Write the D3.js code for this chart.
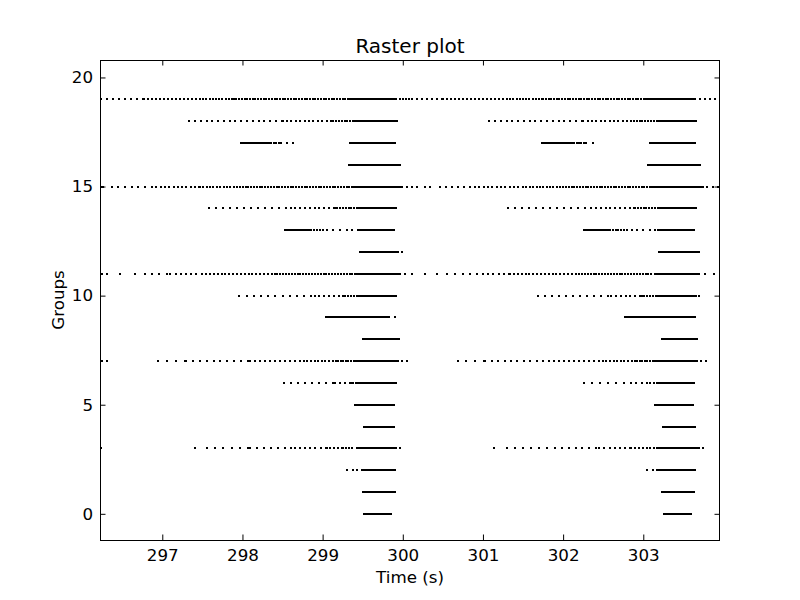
<!DOCTYPE html>
<html>
<head>
<meta charset="utf-8">
<script src="https://cdn.jsdelivr.net/npm/d3@7"></script>
<style>
  html, body { margin: 0; padding: 0; background: #fff; }
  svg { display: block; }
  text { font-family: "DejaVu Sans", sans-serif; fill: #000; }
</style>
</head>
<body>
<svg id="chart" width="800" height="600"></svg>
<script>
// ---------------- data ----------------
const groups = [0,1,2,3,4,5,6,7,8,9,10,11,12,13,14,15,16,17,18,19];
const xTicks = [297, 298, 299, 300, 301, 302, 303];
const yTicks = [0, 5, 10, 15, 20];
const xDomain = [296.223, 303.957];
const yDomain = [-1.2, 20.8];

// dense bursts: [group, start (s), end (s)] — spikes packed so tightly they read as a solid bar
const bursts = [
  [0, 299.516, 299.865], [0, 303.258, 303.603],
  [1, 299.508, 299.903], [1, 303.237, 303.645],
  [2, 299.487, 299.915], [2, 303.200, 303.657],
  [3, 299.425, 299.924], [3, 303.167, 303.700],
  [4, 299.516, 299.903], [4, 303.250, 303.645],
  [5, 299.404, 299.903], [5, 303.146, 303.624],
  [6, 299.445, 299.915], [6, 303.167, 303.645],
  [7, 299.430, 299.944], [7, 303.146, 303.666],
  [8, 299.508, 299.953], [8, 303.237, 303.674],
  [9, 299.391, 299.840], [9, 303.075, 303.645],
  [10, 299.445, 299.915], [10, 303.187, 303.666],
  [11, 299.430, 299.960], [11, 303.140, 303.700],
  [12, 299.466, 299.944], [12, 303.200, 303.707],
  [13, 298.530, 298.842], [13, 299.445, 299.903], [13, 302.260, 302.563], [13, 303.187, 303.645],
  [14, 299.445, 299.915], [14, 303.187, 303.657],
  [15, 299.362, 299.965], [15, 303.105, 303.748],
  [16, 299.333, 299.965], [16, 303.062, 303.707],
  [17, 297.982, 298.294], [17, 299.341, 299.903], [17, 301.740, 302.085], [17, 303.083, 303.645],
  [18, 299.404, 299.924], [18, 303.167, 303.666],
  [19, 299.322, 299.903], [19, 303.021, 303.624]
];

// dotted runs: [group, start (s), end (s), spacing between spikes (s)]
const dottedRuns = [
  [3, 297.554, 298.100, 0.104], [3, 298.100, 298.650, 0.085], [3, 298.650, 299.050, 0.065],
  [3, 299.050, 299.250, 0.048], [3, 299.250, 299.410, 0.040],
  [3, 301.296, 301.900, 0.100], [3, 301.900, 302.450, 0.085], [3, 302.450, 302.850, 0.065],
  [3, 302.850, 303.050, 0.048], [3, 303.050, 303.150, 0.040],
  [6, 298.522, 299.150, 0.087], [6, 299.150, 299.350, 0.062], [6, 299.350, 299.440, 0.033],
  [6, 302.264, 302.850, 0.100], [6, 302.850, 303.050, 0.065], [6, 303.050, 303.160, 0.040],
  [7, 296.950, 297.300, 0.110], [7, 297.300, 298.100, 0.085], [7, 298.100, 298.720, 0.062],
  [7, 298.720, 299.130, 0.045], [7, 299.130, 299.420, 0.032],
  [7, 300.684, 301.030, 0.110], [7, 301.030, 301.830, 0.080], [7, 301.830, 302.450, 0.062],
  [7, 302.450, 302.860, 0.045], [7, 302.860, 303.140, 0.032],
  [9, 299.042, 299.374, 0.020], [9, 302.772, 303.062, 0.020],
  [10, 297.961, 298.900, 0.090], [10, 298.900, 299.250, 0.060], [10, 299.250, 299.440, 0.035],
  [10, 301.682, 302.600, 0.088], [10, 302.600, 302.980, 0.060], [10, 302.980, 303.180, 0.035],
  [11, 296.784, 297.100, 0.090], [11, 297.100, 297.500, 0.065], [11, 297.500, 298.400, 0.048],
  [11, 298.400, 299.420, 0.036],
  [11, 300.751, 301.000, 0.085], [11, 301.000, 301.340, 0.065], [11, 301.340, 302.200, 0.048],
  [11, 302.200, 303.130, 0.036],
  [13, 298.850, 299.060, 0.040], [13, 302.584, 302.800, 0.035],
  [14, 297.586, 298.600, 0.087], [14, 298.600, 299.150, 0.060], [14, 299.150, 299.440, 0.035],
  [14, 301.316, 302.350, 0.087], [14, 302.350, 302.900, 0.060], [14, 302.900, 303.180, 0.035],
  [15, 296.369, 296.870, 0.083], [15, 296.870, 297.470, 0.054], [15, 297.470, 297.970, 0.042],
  [15, 297.970, 299.360, 0.035],
  [15, 300.460, 300.900, 0.075], [15, 300.900, 301.500, 0.054], [15, 301.500, 302.000, 0.042],
  [15, 302.000, 303.100, 0.035],
  [17, 298.302, 298.490, 0.030], [17, 302.107, 302.300, 0.030],
  [18, 297.337, 298.500, 0.072], [18, 298.500, 299.100, 0.055], [18, 299.100, 299.400, 0.035],
  [18, 301.079, 302.250, 0.072], [18, 302.250, 302.850, 0.055], [18, 302.850, 303.160, 0.035],
  [19, 296.230, 296.770, 0.075], [19, 296.770, 297.470, 0.050], [19, 297.470, 297.890, 0.040],
  [19, 297.890, 299.320, 0.034], [19, 299.920, 300.100, 0.040],
  [19, 300.111, 300.500, 0.062], [19, 300.500, 301.340, 0.050], [19, 301.340, 301.750, 0.040],
  [19, 301.750, 303.020, 0.034], [19, 303.640, 303.960, 0.065]
];

// isolated spikes: [group, time (s)]
const singleSpikes = [
  [2, 299.308], [2, 299.383], [2, 299.425], [2, 303.050], [2, 303.117], [2, 303.167],
  [3, 296.235], [3, 297.408], [3, 299.965], [3, 301.141], [3, 303.750],
  [7, 296.244], [7, 296.306], [7, 299.986], [7, 300.049], [7, 303.720], [7, 303.782],
  [9, 299.903],
  [10, 303.698],
  [11, 296.244], [11, 296.306], [11, 296.472], [11, 296.659], [11, 300.030],
  [11, 300.111], [11, 300.277], [11, 300.423], [11, 300.548], [11, 300.651],
  [11, 303.770], [11, 303.880],
  [12, 299.986],
  [13, 299.133], [13, 299.217], [13, 299.300], [13, 299.370],
  [13, 302.855], [13, 302.925], [13, 303.000], [13, 303.083], [13, 303.146],
  [15, 296.235], [15, 296.265], [15, 299.986], [15, 300.049],
  [15, 300.111], [15, 300.173], [15, 300.277], [15, 300.340],
  [15, 303.800], [15, 303.870], [15, 303.930],
  [17, 298.551], [17, 298.634], [17, 302.369]
];
const burstSpacing = 0.01;

// ---------------- build spike list ----------------
const spikes = [];
bursts.forEach(([g, t0, t1]) => {
  d3.range(t0, t1 + 1e-9, burstSpacing).forEach(t => spikes.push({ g, t }));
});
dottedRuns.forEach(([g, t0, t1, dt]) => {
  d3.range(t0, t1 - 1e-9, dt).forEach(t => spikes.push({ g, t }));
});
singleSpikes.forEach(([g, t]) => spikes.push({ g, t }));

// ---------------- layout ----------------
const svg = d3.select("#chart");
const L = 100, R = 720, T = 60, B = 540;
const x = d3.scaleLinear().domain(xDomain).range([L, R]);
const y = d3.scaleLinear().domain(yDomain).range([B, T]);

svg.append("rect").attr("width", 800).attr("height", 600).attr("fill", "#fff");

svg.append("clipPath").attr("id", "clip")
  .append("rect").attr("x", L).attr("y", T).attr("width", R - L).attr("height", B - T);

svg.append("g").attr("clip-path", "url(#clip)")
  .attr("shape-rendering", "crispEdges")
  .selectAll("rect.spike").data(spikes).join("rect")
  .attr("class", "spike")
  .attr("x", d => Math.round(x(d.t)) - 1)
  .attr("y", d => Math.round(y(d.g)) - 1)
  .attr("width", 2)
  .attr("height", 2)
  .attr("fill", "#000");

// axes (ticks point inward, matplotlib classic style)
const tickLen = -5.5;
const fontSize = "16.7px";

const gx = svg.append("g").attr("transform", `translate(0,${B})`)
  .call(d3.axisBottom(x).tickValues(xTicks).tickSize(tickLen).tickPadding(9).tickFormat(d3.format("d")));
const gxt = svg.append("g").attr("transform", `translate(0,${T})`)
  .call(d3.axisTop(x).tickValues(xTicks).tickSize(tickLen).tickFormat(""));
const gy = svg.append("g").attr("transform", `translate(${L},0)`)
  .call(d3.axisLeft(y).tickValues(yTicks).tickSize(tickLen).tickPadding(7).tickFormat(d3.format("d")));
const gyr = svg.append("g").attr("transform", `translate(${R},0)`)
  .call(d3.axisRight(y).tickValues(yTicks).tickSize(tickLen).tickFormat(""));

[gx, gxt, gy, gyr].forEach(g => {
  g.select(".domain").remove();
  g.selectAll(".tick line").attr("stroke", "#000").attr("stroke-width", 1);
  g.selectAll("text").attr("font-family", "DejaVu Sans").attr("font-size", fontSize).attr("fill", "#000");
});

// frame
svg.append("rect")
  .attr("x", L + 0.5).attr("y", T + 0.5)
  .attr("width", R - L - 1).attr("height", B - T)
  .attr("fill", "none").attr("stroke", "#000").attr("stroke-width", 1);

// title and labels
svg.append("text").attr("x", (L + R) / 2).attr("y", 53)
  .attr("text-anchor", "middle").attr("font-size", "20px").text("Raster plot");
svg.append("text").attr("x", (L + R) / 2).attr("y", 583)
  .attr("text-anchor", "middle").attr("font-size", fontSize).text("Time (s)");
svg.append("text").attr("transform", `translate(64,${(T + B) / 2}) rotate(-90)`)
  .attr("text-anchor", "middle").attr("font-size", fontSize).text("Groups");
</script>
</body>
</html>
